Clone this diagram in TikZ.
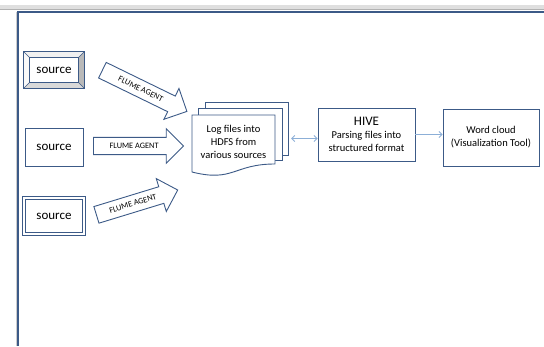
\documentclass[tikz,border=0pt]{standalone}
\usepackage{fontspec}
\setmainfont{Carlito}
\usetikzlibrary{shapes.arrows,arrows.meta,calc}
\definecolor{boxblue}{RGB}{60,90,135}
\definecolor{linkblue}{RGB}{140,175,215}
\tikzset{
  srcbox/.style={draw=boxblue, line width=0.9pt, fill=white, minimum width=60pt,
    minimum height=36pt, inner sep=0pt, font=\fontsize{13}{15}\selectfont},
  flume/.style={single arrow, draw=boxblue, line width=0.9pt, fill=white,
    single arrow head extend=8.5pt, single arrow tip angle=90, inner ysep=5.5pt,
    inner xsep=3pt, anchor=tail, font=\fontsize{8.3}{9}\selectfont},
  stepbox/.style={draw=boxblue, line width=0.9pt, fill=white, inner sep=0pt,
    align=center, font=\fontsize{10.5}{13}\selectfont},
  page/.style={draw=boxblue, line width=0.9pt, fill=white},
  link/.style={draw=linkblue, line width=0.8pt},
  >={Straight Barb[length=3pt,width=6pt]}
}
\begin{document}
\begin{tikzpicture}[x=1pt,y=-1pt]
  \useasboundingbox (0,0) rectangle (544,346);
  % window frame
  \fill[gray!25] (0,5) rectangle (544,9);
  \draw[gray!60, line width=0.5pt] (0,9) -- (544,9);
  \draw[gray!40, line width=1pt] (16.5,12) -- (16.5,346);
  \draw[boxblue, line width=1.2pt] (18,346) -- (18,12) -- (544,12);

  % sources
  \node[srcbox] (src1) at (54,70) {source};
  \coordinate (i1) at ([shift={(6,6)}]src1.north west);
  \coordinate (i2) at ([shift={(-6,6)}]src1.north east);
  \coordinate (i3) at ([shift={(-6,-6)}]src1.south east);
  \coordinate (i4) at ([shift={(6,-6)}]src1.south west);
  \fill[gray!12] (src1.north west) -- (src1.north east) -- (i2) -- (i1) -- cycle;
  \fill[gray!5] (src1.north west) -- (i1) -- (i4) -- (src1.south west) -- cycle;
  \fill[gray!55] (src1.north east) -- (src1.south east) -- (i3) -- (i2) -- cycle;
  \fill[gray!30] (src1.south west) -- (i4) -- (i3) -- (src1.south east) -- cycle;
  \draw[boxblue, line width=0.9pt] (src1.north west) rectangle (src1.south east)
    (i1) rectangle (i3);
  \draw[boxblue, line width=0.6pt] (src1.north west) -- (i1)
    (src1.north east) -- (i2) (src1.south east) -- (i3) (src1.south west) -- (i4);

  \node[srcbox, minimum width=58pt, minimum height=38pt] (src2) at (54,147) {source};
  \node[srcbox, double, double distance=2pt, line width=0.7pt] (src3) at (54,216) {source};

  % flume agents
  \node[flume, rotate=-26, minimum height=94pt] (ag1) at (102,70) {FLUME AGENT};
  \node[flume, minimum height=90pt] (ag2) at (93,146) {FLUME AGENT};
  \node[flume, rotate=17, minimum height=85pt] (ag3) at (96,215) {FLUME AGENT};

  % log files
  \node[minimum width=96pt, minimum height=73pt, inner sep=0pt] (logs) at (240,138.5) {};
  \path[page] (205,102) rectangle (288,155);
  \path[page] (198,108) rectangle (282,160);
  \path[page] (192,115) -- (275,115) -- (275,164)
    .. controls (233.5,164) and (233.5,182.5) .. (192,172) -- cycle;
  \node[align=center, font=\fontsize{10.5}{13}\selectfont] (logtext) at (233.5,142)
    {Log files into\\HDFS from\\various sources};

  % hive and word cloud
  \node[stepbox, minimum width=97pt, minimum height=53pt] (hive) at (366.5,134.5)
    {{\fontsize{13}{14}\selectfont HIVE}\\Parsing files into\\structured format};
  \node[stepbox, minimum width=96pt, minimum height=57pt] (word) at (491,137.5)
    {Word cloud\\(Visualization Tool)};

  \draw[link, <->] ([xshift=3pt]logs.east) -- (hive.west |- logs.east);
  \draw[link, ->] (hive.east) -- (hive.east -| word.west);
\end{tikzpicture}
\end{document}
